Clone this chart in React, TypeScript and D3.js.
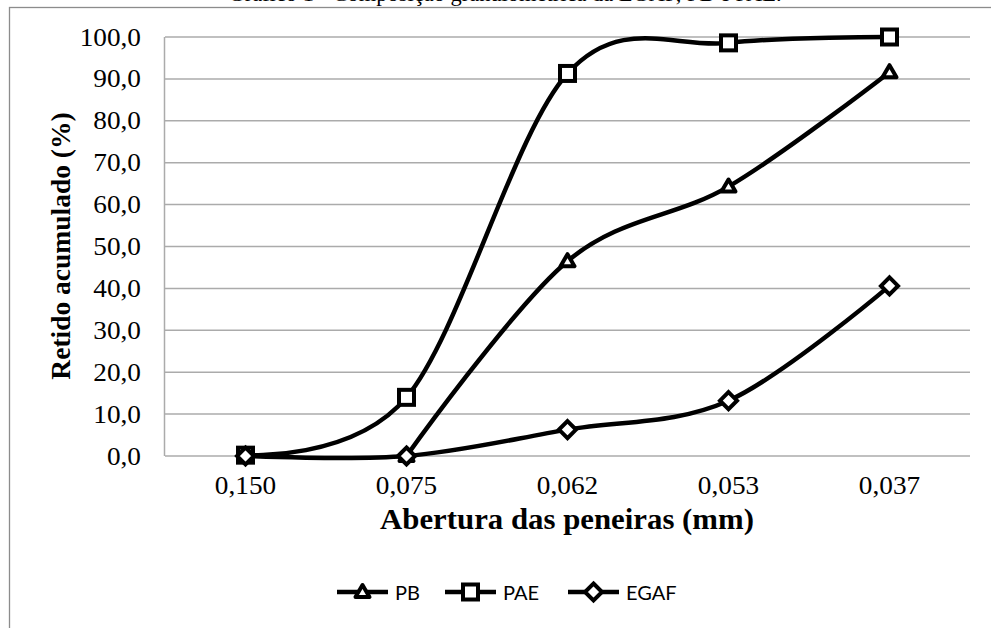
import React from "react";
import * as d3 from "d3";

const categories = ["0,150", "0,075", "0,062", "0,053", "0,037"];
const pbValues: (number | null)[] = [null, 0, 46.5, 64.3, 91.6];
const paeValues: (number | null)[] = [0.2, 14.0, 91.3, 98.6, 100.0];
const egafValues: (number | null)[] = [0, 0, 6.3, 13.2, 40.6];
const yTicks = [0, 10, 20, 30, 40, 50, 60, 70, 80, 90, 100];
const seriesNames = ["PB", "PAE", "EGAF"];

const W = 991;
const H = 628;
const left = 165;
const right = 970;
const top = 37;
const bottom = 456;
const SERIF = "'Liberation Serif', 'Times New Roman', Times, serif";
const SX = 1.07;

function Marker({ kind, x, y }: { kind: string; x: number; y: number }) {
  if (kind === "PAE") {
    return <rect x={x - 7.5} y={y - 7.5} width={15} height={15} fill="#fff" stroke="#000" strokeWidth={4} />;
  }
  if (kind === "PB") {
    const p = `M${x},${y - 7} L${x + 7},${y + 5} L${x - 7},${y + 5} Z`;
    return <path d={p} fill="#fff" stroke="#000" strokeWidth={4} strokeLinejoin="round" />;
  }
  const p = `M${x},${y - 8.5} L${x + 8.5},${y} L${x},${y + 8.5} L${x - 8.5},${y} Z`;
  return <path d={p} fill="#fff" stroke="#000" strokeWidth={4} strokeLinejoin="miter" />;
}

function HText({
  x,
  y,
  anchor,
  size,
  bold,
  children,
}: {
  x: number;
  y: number;
  anchor: string;
  size: number;
  bold?: boolean;
  children: React.ReactNode;
}) {
  return (
    <g transform={`translate(${x},${y}) scale(${SX},1)`}>
      <text x={0} y={0} textAnchor={anchor} fontFamily={SERIF} fontSize={size} fontWeight={bold ? "bold" : "normal"}>
        {children}
      </text>
    </g>
  );
}

export default function App() {
  const x = d3.scaleBand<string>().domain(categories).range([left, right]);
  const xc = (c: string) => (x(c) as number) + x.bandwidth() / 2;
  const y = d3.scaleLinear().domain([0, 100]).range([bottom, top]);
  const line = d3
    .line<number | null>()
    .defined((v) => v !== null)
    .x((_, i) => xc(categories[i]))
    .y((v) => y(v as number))
    .curve(d3.curveCardinal.tension(0));

  const series = [
    { name: "PB", values: pbValues },
    { name: "PAE", values: paeValues },
    { name: "EGAF", values: egafValues },
  ];

  const legendX = [337, 445, 568];

  return (
    <svg
      width={W}
      height={H}
      style={{ position: "absolute", left: 0, top: 0, background: "#fff" }}
    >
      <rect x={0} y={0} width={W} height={H} fill="#fff" />
      <HText x={505} y={1} anchor="middle" size={21}>
        Gráfico 1 - Composição granulométrica da EGAF, PB e PAE.
      </HText>
      <rect x={9.5} y={7.5} width={1000} height={700} fill="none" stroke="#8c8c8c" strokeWidth={1.3} />

      {yTicks.map((t) => (
        <g key={t}>
          <line x1={left} x2={right} y1={y(t)} y2={y(t)} stroke="#ababab" strokeWidth={1.5} />
          <HText x={141} y={y(t) + 8.5} anchor="end" size={25.5}>
            {t.toFixed(1).replace(".", ",")}
          </HText>
        </g>
      ))}
      <line x1={left - 0.5} x2={left - 0.5} y1={top} y2={bottom} stroke="#ababab" strokeWidth={1.5} />

      {categories.map((c) => (
        <HText key={c} x={xc(c)} y={494} anchor="middle" size={25.5}>
          {c}
        </HText>
      ))}

      <HText x={567} y={529} anchor="middle" size={28.8} bold>
        Abertura das peneiras (mm)
      </HText>
      <text
        transform={`translate(70,246) rotate(-90)`}
        textAnchor="middle"
        fontFamily={SERIF}
        fontWeight="bold"
        fontSize={27.5}
      >
        Retido acumulado (%)
      </text>

      {series.map((s) => (
        <path key={s.name} d={line(s.values) || ""} fill="none" stroke="#000" strokeWidth={4.5} />
      ))}
      {series.map((s) => (
        <g key={s.name + "m"}>
          {s.values.map((v, i) =>
            v === null ? null : <Marker key={i} kind={s.name} x={xc(categories[i])} y={y(v)} />
          )}
        </g>
      ))}

      {seriesNames.map((n, i) => (
        <g key={n}>
          <line x1={legendX[i]} x2={legendX[i] + 51} y1={592} y2={592} stroke="#000" strokeWidth={4.5} />
          <Marker kind={n} x={legendX[i] + 25.5} y={592} />
          <text x={legendX[i] + 58} y={600} fontFamily="Lato, 'Open Sans', sans-serif" fontSize={20}>
            {n}
          </text>
        </g>
      ))}
    </svg>
  );
}
